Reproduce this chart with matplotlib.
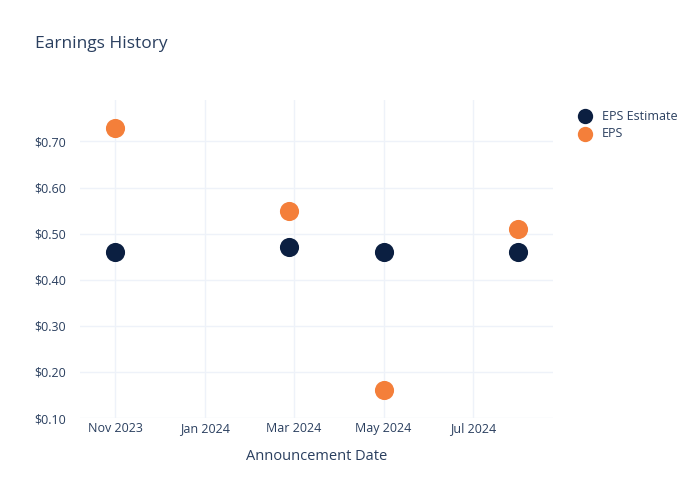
import matplotlib
matplotlib.use("Agg")
import matplotlib.pyplot as plt
import matplotlib.dates as mdates
import pandas as pd

plt.rcParams['font.family'] = ['Open Sans', 'DejaVu Sans']

dates = pd.to_datetime(["2023-11-01", "2024-02-27", "2024-05-01", "2024-07-31"])
eps_estimate = [0.46, 0.47, 0.46, 0.46]
eps_actual = [0.73, 0.55, 0.16, 0.51]
tick_dates = pd.to_datetime(["2023-11-01", "2024-01-01", "2024-03-01", "2024-05-01", "2024-07-01"])
tick_labels = ["Nov 2023", "Jan 2024", "Mar 2024", "May 2024", "Jul 2024"]
y_ticks = [0.1, 0.2, 0.3, 0.4, 0.5, 0.6, 0.7]

text_color = "#2a3f5f"
grid_color = "#eef2f9"

fig = plt.figure(figsize=(7, 5), dpi=100)
ax = fig.add_axes([80 / 700, 82 / 500, (553 - 80) / 700, (418 - 100) / 500])

ax.scatter(dates, eps_estimate, s=190, color="#0b1f41", label="EPS Estimate", zorder=3, linewidths=0)
ax.scatter(dates, eps_actual, s=190, color="#f47f3a", label="EPS", zorder=3, linewidths=0)

ax.set_xlim(pd.Timestamp("2023-10-08"), pd.Timestamp("2024-08-24"))
ax.set_ylim(0.1, 0.79)
ax.set_xticks(tick_dates)
ax.set_xticklabels(tick_labels)
ax.set_yticks(y_ticks)
ax.set_yticklabels([f"${v:.2f}" for v in y_ticks])

ax.grid(True, color=grid_color, linewidth=1)
ax.set_axisbelow(True)
for s in ax.spines.values():
    s.set_visible(False)
ax.tick_params(length=0, colors=text_color, labelsize=9)
ax.tick_params(axis="y", pad=10)
ax.tick_params(axis="x", pad=3)

ax.set_xlabel("Announcement Date", color=text_color, fontsize=10.5, labelpad=10)
fig.text(35 / 700, 1 - 44 / 500, "Earnings History", color=text_color, fontsize=12.5, va="center", ha="left")

leg = ax.legend(loc="upper left", bbox_to_anchor=(1.03, 0.985), frameon=False,
                fontsize=9, labelcolor=text_color, handletextpad=0.4,
                borderaxespad=0, labelspacing=0.35, markerscale=0.8)

fig.savefig("out.png", dpi=100)
